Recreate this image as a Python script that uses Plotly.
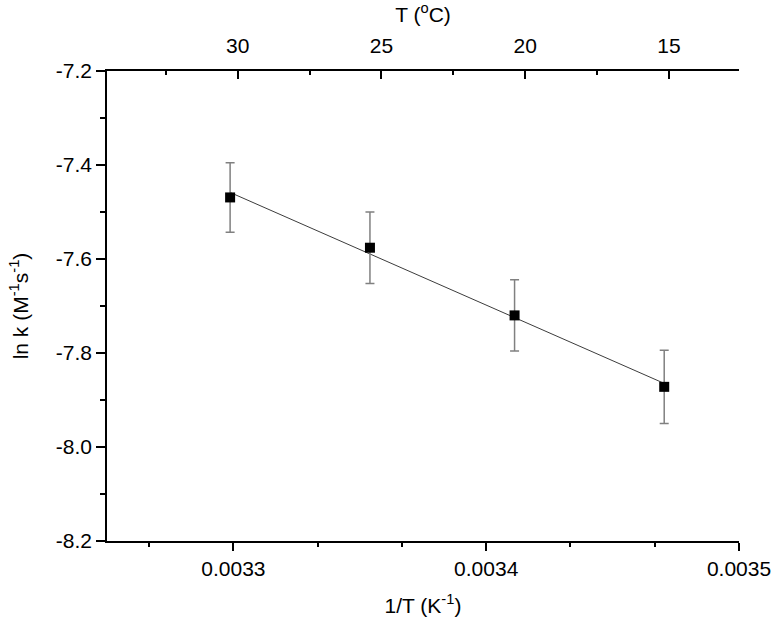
import numpy as np
import plotly.graph_objects as go

# Data
temps_c = [30, 25, 20, 15]
inv_T = [1 / (t + 273.15) for t in temps_c]
ln_k = [-7.469, -7.576, -7.720, -7.872]
ln_k_err = [0.074, 0.076, 0.076, 0.078]

x_range = [0.00325, 0.0035]
y_range = [-8.2, -7.2]
y_tickvals = [-8.2, -8.0, -7.8, -7.6, -7.4, -7.2]
y_ticktext = ["-8.2", "-8.0", "-7.8", "-7.6", "-7.4", "-7.2"]

# Linear fit (Arrhenius)
slope, intercept = np.polyfit(inv_T, ln_k, 1)
fit_x = [inv_T[0], inv_T[-1]]
fit_y = [slope * v + intercept for v in fit_x]

font_family = "Arial, Liberation Sans, sans-serif"
axis_col = "#000000"

fig = go.Figure()

fig.add_trace(go.Scatter(
    x=fit_x, y=fit_y, mode="lines",
    line=dict(color="#3c3c3c", width=1),
    showlegend=False, hoverinfo="skip",
))

fig.add_trace(go.Scatter(
    x=inv_T, y=ln_k, mode="markers",
    marker=dict(symbol="square", size=10, color="black"),
    error_y=dict(type="data", array=ln_k_err, visible=True,
                 color="#808080", thickness=1.5, width=4.5),
    showlegend=False,
))

# invisible trace for top axis
top_range = [1 / x_range[0] - 273.15, 1 / x_range[1] - 273.15]
fig.add_trace(go.Scatter(
    x=top_range, y=[y_range[0], y_range[0]], xaxis="x2", mode="markers",
    marker=dict(opacity=0), showlegend=False, hoverinfo="skip",
))

tick_font = dict(family=font_family, size=21, color="black")
title_font = dict(family=font_family, size=21, color="black")

fig.update_layout(
    width=775, height=625,
    margin=dict(l=107, r=36, t=71, b=84),
    paper_bgcolor="white", plot_bgcolor="white",
    font=dict(family=font_family, color="black"),
    xaxis=dict(
        range=x_range, tick0=0.0033, dtick=0.0001, tickformat=".4f",
        ticks="outside", ticklen=8, tickwidth=1.5, tickcolor=axis_col,
        showline=True, linewidth=1.5, linecolor=axis_col,
        showgrid=False, zeroline=False, automargin=False,
        minor=dict(tick0=0.0033, dtick=0.0001 / 3, ticks="outside",
                   ticklen=4, tickwidth=1.5, tickcolor=axis_col, showgrid=False),
        tickfont=tick_font,
        title=dict(text="1/T (K<sup>-1</sup>)", font=title_font, standoff=19),
    ),
    xaxis2=dict(
        overlaying="x", side="top", anchor="y",
        range=top_range, tick0=0, dtick=5,
        ticks="inside", ticklen=8, tickwidth=1.5, tickcolor=axis_col,
        showline=True, linewidth=1.5, linecolor=axis_col,
        showgrid=False, zeroline=False, automargin=False,
        ticklabelstandoff=8,
        minor=dict(tick0=0, dtick=2.5, ticks="inside",
                   ticklen=4, tickwidth=1.5, tickcolor=axis_col, showgrid=False),
        tickfont=tick_font,
        title=dict(text="T (<sup>o</sup>C)", font=title_font, standoff=6),
    ),
    yaxis=dict(
        range=y_range, tickvals=y_tickvals, ticktext=y_ticktext,
        ticks="outside", ticklen=9, tickwidth=1.5, tickcolor=axis_col,
        showline=True, linewidth=1.5, linecolor=axis_col,
        showgrid=False, zeroline=False, automargin=False,
        minor=dict(tick0=-8.2, dtick=0.1, ticks="outside",
                   ticklen=5, tickwidth=1.5, tickcolor=axis_col, showgrid=False),
        tickfont=tick_font,
        title=dict(text="ln k (M<sup>-1</sup>s<sup>-1</sup>)", font=title_font, standoff=22),
    ),
)

fig.write_html("out.html", config={"displayModeBar": False},
               post_script="document.body.style.margin='0px';")
